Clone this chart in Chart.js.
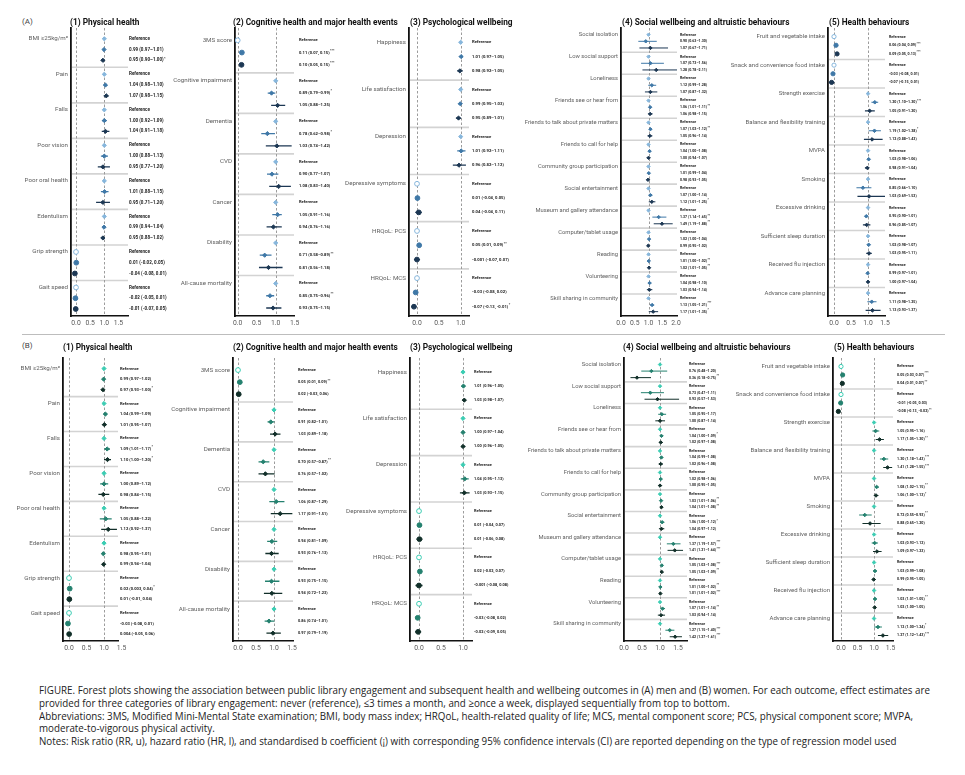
<!DOCTYPE html>
<html>
<head>
<meta charset="utf-8">
<script src="https://cdn.jsdelivr.net/npm/chart.js@4.4.1/dist/chart.umd.min.js"></script>
<style>
  body { margin: 0; background: #fff; width: 965px; height: 775px; position: relative; overflow: hidden; font-family: Roboto, sans-serif; }
  canvas { position: absolute; }
  .ttl { position: absolute; font: bold 8.3px Roboto, sans-serif; color: #111; white-space: nowrap; line-height: 10px; }
  .tag { position: absolute; font: 8px Roboto, sans-serif; color: #444; line-height: 10px; }
  .rule { position: absolute; left: 22px; top: 334px; width: 923px; height: 1px; background: #bdbdbd; }
  #caption { position: absolute; left: 39px; top: 684px; font: 11px 'Open Sans', sans-serif; color: #222; line-height: 12.8px; transform-origin: 0 0; }
  #caption div { white-space: nowrap; }
</style>
</head>
<body>
<div class="tag" style="left:22px;top:17px">(A)</div>
<div class="tag" style="left:22px;top:341px">(B)</div>
<div class="rule"></div>
<div id="caption">
  <div>FIGURE. Forest plots showing the association between public library engagement and subsequent health and wellbeing outcomes in (A) men and (B) women. For each outcome, effect estimates are</div>
  <div>provided for three categories of library engagement: never (reference), ≤3 times a month, and ≥once a week, displayed sequentially from top to bottom.</div>
  <div>Abbreviations: 3MS, Modified Mini-Mental State examination; BMI, body mass index; HRQoL, health-related quality of life; MCS, mental component score; PCS, physical component score; MVPA,</div>
  <div>moderate-to-vigorous physical activity.</div>
  <div>Notes: Risk ratio (RR, u), hazard ratio (HR, l), and standardised b coefficient (¡) with corresponding 95% confidence intervals (CI) are reported depending on the type of regression model used</div>
</div>
<script>
// Titulos de los paneles
const panelTitles = ['(1) Physical health', '(2) Cognitive health and major health events',
  '(3) Psychological wellbeing', '(4) Social wellbeing and altruistic behaviours', '(5) Health behaviours'];

// Resultados continuos (coeficiente b): referencia en 0
const continuous = ['3MS score', 'Grip strength', 'Gait speed', 'Depressive symptoms', 'HRQoL: PCS', 'HRQoL: MCS',
  'Fruit and vegetable intake', 'Snack and convenience food intake'];

// Etiquetas de cada panel
const physLabels = ['BMI ≥25kg/m²', 'Pain', 'Falls', 'Poor vision', 'Poor oral health', 'Edentulism', 'Grip strength', 'Gait speed'];
const cogLabels = ['3MS score', 'Cognitive impairment', 'Dementia', 'CVD', 'Cancer', 'Disability', 'All-cause mortality'];
const psyLabels = ['Happiness', 'Life satisfaction', 'Depression', 'Depressive symptoms', 'HRQoL: PCS', 'HRQoL: MCS'];
const socLabels = ['Social isolation', 'Low social support', 'Loneliness', 'Friends see or hear from',
  'Friends to talk about private matters', 'Friends to call for help', 'Community group participation',
  'Social entertainment', 'Museum and gallery attendance', 'Computer/tablet usage', 'Reading', 'Volunteering',
  'Skill sharing in community'];
const behLabels = ['Fruit and vegetable intake', 'Snack and convenience food intake', 'Strength exercise',
  'Balance and flexibility training', 'MVPA', 'Smoking', 'Excessive drinking', 'Sufficient sleep duration',
  'Received flu injection', 'Advance care planning'];

// [estimacion, IC inferior, IC superior, significancia]  (<=3 veces al mes / >=1 vez por semana)
const menPhysMid = [[0.99,0.97,1.01,''],[1.04,0.98,1.10,''],[1.00,0.92,1.09,''],[1.00,0.88,1.13,''],[1.01,0.88,1.15,''],[0.99,0.94,1.04,''],[0.01,-0.02,0.05,''],[-0.02,-0.05,0.01,'']];
const menPhysHigh = [[0.95,0.90,1.00,'*'],[1.07,0.98,1.15,''],[1.04,0.91,1.18,''],[0.95,0.77,1.20,''],[0.95,0.71,1.20,''],[0.95,0.88,1.02,''],[-0.04,-0.08,0.01,''],[-0.01,-0.07,0.05,'']];
const menCogMid = [[0.11,0.07,0.15,'***'],[0.89,0.79,0.99,'*'],[0.78,0.62,0.98,'*'],[0.90,0.77,1.07,''],[1.05,0.91,1.16,''],[0.71,0.58,0.89,'**'],[0.85,0.75,0.96,'**']];
const menCogHigh = [[0.10,0.05,0.15,'***'],[1.05,0.88,1.25,''],[1.03,0.74,1.42,''],[1.08,0.83,1.40,''],[0.94,0.76,1.16,''],[0.81,0.56,1.18,''],[0.93,0.75,1.15,'']];
const menPsyMid = [[1.01,0.97,1.05,''],[0.99,0.95,1.03,''],[1.01,0.92,1.11,''],[0.01,-0.04,0.05,''],[0.05,0.01,0.09,'**'],[-0.03,-0.08,0.02,'']];
const menPsyHigh = [[0.98,0.92,1.05,''],[0.95,0.89,1.01,''],[0.96,0.82,1.12,''],[0.04,-0.04,0.11,''],[-0.001,-0.07,0.07,''],[-0.07,-0.13,-0.01,'*']];
const menSocMid = [[0.90,0.63,1.30,''],[1.07,0.73,1.56,''],[1.12,0.99,1.28,''],[1.06,1.01,1.11,'**'],[1.07,1.02,1.12,'**'],[1.04,1.00,1.08,''],[1.01,0.99,1.04,''],[1.07,1.00,1.14,''],[1.37,1.14,1.65,'**'],[1.02,1.00,1.04,''],[1.01,1.00,1.02,'**'],[1.04,0.98,1.10,''],[1.13,1.05,1.21,'***']];
const menSocHigh = [[1.07,0.67,1.71,''],[1.28,0.78,2.11,''],[1.07,0.87,1.32,''],[1.06,0.98,1.15,''],[1.05,0.96,1.14,''],[1.00,0.94,1.07,''],[0.98,0.93,1.05,''],[1.12,1.01,1.25,'*'],[1.49,1.19,1.88,'**'],[0.99,0.95,1.02,''],[1.02,1.01,1.05,'**'],[1.03,0.94,1.14,''],[1.17,1.01,1.35,'*']];
const menBehMid = [[0.06,0.04,0.09,'***'],[-0.03,-0.08,0.01,''],[1.20,1.10,1.30,'***'],[1.19,1.02,1.38,'*'],[1.02,0.98,1.06,''],[0.85,0.66,1.10,''],[0.95,0.90,1.01,''],[1.02,0.98,1.07,''],[0.99,0.97,1.01,''],[1.11,0.98,1.25,'']];
const menBehHigh = [[0.09,0.05,0.13,'***'],[-0.07,-0.15,0.01,''],[1.05,0.91,1.20,''],[1.12,0.88,1.43,''],[0.98,0.91,1.04,''],[1.03,0.69,1.53,''],[0.96,0.85,1.07,''],[1.03,0.95,1.11,''],[1.00,0.97,1.04,''],[1.13,0.93,1.37,'']];

const womenPhysMid = [[0.99,0.97,1.02,''],[1.04,0.99,1.09,''],[1.09,1.01,1.17,'*'],[1.00,0.89,1.12,''],[1.05,0.88,1.22,''],[0.98,0.95,1.01,''],[0.02,0.003,0.04,'*'],[-0.03,-0.08,0.01,'']];
const womenPhysHigh = [[0.97,0.93,1.00,'*'],[1.01,0.95,1.07,''],[1.10,1.00,1.20,'*'],[0.98,0.84,1.15,''],[1.12,0.92,1.37,''],[0.99,0.94,1.04,''],[0.01,-0.01,0.04,''],[0.004,-0.05,0.06,'']];
const womenCogMid = [[0.05,0.01,0.09,'**'],[0.91,0.82,1.01,''],[0.70,0.57,0.87,'**'],[1.06,0.87,1.29,''],[0.94,0.81,1.09,''],[0.93,0.75,1.15,''],[0.86,0.74,1.01,'']];
const womenCogHigh = [[0.02,-0.03,0.06,''],[1.03,0.89,1.18,''],[0.76,0.57,1.02,''],[1.17,0.91,1.51,''],[0.93,0.76,1.13,''],[0.94,0.72,1.23,''],[0.97,0.79,1.19,'']];
const womenPsyMid = [[1.01,0.96,1.05,''],[1.00,0.97,1.04,''],[1.04,0.95,1.13,''],[0.01,-0.04,0.07,''],[0.02,-0.02,0.07,''],[-0.03,-0.08,0.02,'']];
const womenPsyHigh = [[1.03,0.98,1.07,''],[1.00,0.96,1.05,''],[1.03,0.93,1.15,''],[0.01,-0.06,0.08,''],[-0.001,-0.08,0.08,''],[-0.02,-0.09,0.05,'']];
const womenSocMid = [[0.76,0.48,1.20,''],[0.73,0.47,1.11,''],[1.05,0.95,1.17,''],[1.04,1.00,1.09,'*'],[1.04,0.99,1.08,''],[1.02,0.98,1.06,''],[1.03,1.01,1.06,'**'],[1.06,1.00,1.12,'*'],[1.37,1.19,1.57,'***'],[1.05,1.02,1.08,'***'],[1.01,1.00,1.02,'**'],[1.07,1.01,1.14,'**'],[1.27,1.15,1.40,'***']];
const womenSocHigh = [[0.36,0.18,0.75,'**'],[0.93,0.57,1.53,''],[1.00,0.87,1.14,''],[1.02,0.97,1.08,''],[1.02,0.96,1.08,''],[1.00,0.95,1.05,''],[1.04,1.01,1.08,'**'],[1.04,0.97,1.12,''],[1.41,1.21,1.64,'***'],[1.05,1.02,1.09,'**'],[1.01,1.01,1.02,'***'],[1.03,0.94,1.14,''],[1.42,1.27,1.61,'***']];
const womenBehMid = [[0.05,0.03,0.07,'***'],[-0.01,-0.05,0.03,''],[1.05,0.95,1.16,''],[1.30,1.18,1.43,'***'],[1.08,1.02,1.15,'**'],[0.72,0.55,0.93,'**'],[1.02,0.93,1.12,''],[1.03,0.99,1.08,''],[1.03,1.01,1.05,'**'],[1.12,1.00,1.24,'*']];
const womenBehHigh = [[0.04,0.01,0.07,'**'],[-0.08,-0.13,-0.02,'**'],[1.17,1.05,1.30,'**'],[1.41,1.28,1.55,'***'],[1.06,1.00,1.13,'*'],[0.88,0.65,1.20,''],[1.09,0.97,1.23,''],[0.99,0.95,1.05,''],[1.02,1.00,1.05,''],[1.27,1.12,1.43,'***']];

// Colores: referencia, <=3 veces/mes, >=1 vez/semana
const menColors = ['#86b6dc', '#3f78a7', '#1c3753'];
const womenColors = ['#3bcdb3', '#24816f', '#112f29'];

const G = 3.3; // separacion entre grupos (en filas)

// Geometria de las filas y paneles (pixeles de pagina)
const rowA = { top: 28, bottom: 316, titleY: 17, colors: menColors };
const rowB = { top: 358, bottom: 641, titleY: 342, colors: womenColors };

const panels = [
  { row: rowA, labels: physLabels, mid: menPhysMid, high: menPhysHigh, cl: 0, cr: 185, ax: 71, x0: 76, x1: 104.3, sep: 128, an: 129, ticks: [0, 0.5, 1, 1.5], fs: 4.55, ls: 6.2, mr: 2.1, lw: 1.3 },
  { row: rowA, labels: cogLabels, mid: menCogMid, high: menCogHigh, cl: 165, cr: 350, ax: 235, x0: 237.7, x1: 275.7, sep: 294, an: 299, ticks: [0, 0.5, 1, 1.5], fs: 4.1, ls: 6.2, mr: 2.1, lw: 1.3 },
  { row: rowA, labels: psyLabels, mid: menPsyMid, high: menPsyHigh, cl: 335, cr: 520, ax: 409, x0: 417, x1: 460.7, sep: 469, an: 472, ticks: [0, 0.5, 1], fs: 4.2, ls: 6.2, mr: 2.1, lw: 1.3 },
  { row: rowA, labels: socLabels, mid: menSocMid, high: menSocHigh, cl: 515, cr: 725, ax: 621, x0: 621, x1: 648.5, sep: 677, an: 680, ticks: [0, 0.5, 1, 1.5, 2], fs: 3.55, ls: 5.8, mr: 1.7, lw: 1 },
  { row: rowA, labels: behLabels, mid: menBehMid, high: menBehHigh, cl: 720, cr: 965, ax: 828, x0: 834, x1: 868, sep: 885, an: 889, ticks: [0, 0.5, 1, 1.5], fs: 3.65, ls: 6.0, mr: 1.8, lw: 1.1 },
  { row: rowB, labels: physLabels, mid: womenPhysMid, high: womenPhysHigh, cl: 0, cr: 175, ax: 63, x0: 69, x1: 104, sep: 118, an: 120, ticks: [0, 0.5, 1, 1.5], fs: 4.1, ls: 6.2, mr: 2.1, lw: 1.3 },
  { row: rowB, labels: cogLabels, mid: womenCogMid, high: womenCogHigh, cl: 165, cr: 350, ax: 233, x0: 238, x1: 274, sep: 293, an: 298, ticks: [0, 0.5, 1, 1.5], fs: 3.9, ls: 6.2, mr: 2.1, lw: 1.3 },
  { row: rowB, labels: psyLabels, mid: womenPsyMid, high: womenPsyHigh, cl: 335, cr: 520, ax: 410, x0: 419, x1: 463, sep: 472, an: 474, ticks: [0, 0.5, 1], fs: 3.9, ls: 6.2, mr: 2.1, lw: 1.3 },
  { row: rowB, labels: socLabels, mid: womenSocMid, high: womenSocHigh, cl: 515, cr: 735, ax: 624, x0: 624, x1: 660, sep: 687, an: 689, ticks: [0, 0.5, 1, 1.5], fs: 3.55, ls: 5.8, mr: 1.7, lw: 1 },
  { row: rowB, labels: behLabels, mid: womenBehMid, high: womenBehHigh, cl: 725, cr: 965, ax: 833, x0: 841, x1: 874, sep: 893, an: 897, ticks: [0, 0.5, 1, 1.5], fs: 3.65, ls: 6.0, mr: 1.8, lw: 1.1 }
];

Chart.defaults.font.family = 'Roboto, sans-serif';

function fmt(v) {
  return (v !== 0 && Math.abs(v) < 0.01) ? v.toFixed(3) : v.toFixed(2);
}

function ciText(name, e) {
  return continuous.includes(name)
    ? fmt(e[0]) + ' (' + fmt(e[1]) + ', ' + fmt(e[2]) + ')'
    : fmt(e[0]) + ' (' + fmt(e[1]) + '–' + fmt(e[2]) + ')';
}

// Separadores, lineas discontinuas y textos de los intervalos
const forestPlugin = {
  id: 'forest',
  beforeDatasetsDraw(chart, args, opts) {
    const { ctx, chartArea, scales: { x, y } } = chart;
    ctx.save();
    ctx.strokeStyle = '#d3d3d3';
    ctx.lineWidth = 1.6;
    for (let g = 1; g < opts.labels.length; g++) {
      const py = y.getPixelForValue(g * G - 0.65);
      ctx.beginPath();
      ctx.moveTo(chartArea.left + 1, py);
      ctx.lineTo(chartArea.right, py);
      ctx.stroke();
    }
    ctx.strokeStyle = '#9c9c9c';
    ctx.lineWidth = 1;
    ctx.setLineDash([2.5, 2]);
    opts.refLines.forEach(v => {
      const px = Math.round(x.getPixelForValue(v)) + 0.5;
      ctx.beginPath();
      ctx.moveTo(px, chartArea.top);
      ctx.lineTo(px, chartArea.bottom);
      ctx.stroke();
    });
    ctx.restore();
  },
  afterDatasetsDraw(chart, args, opts) {
    const { ctx, chartArea, scales: { y } } = chart;
    ctx.save();
    ctx.fillStyle = '#222';
    ctx.textBaseline = 'middle';
    const tx = chartArea.right + opts.gap;
    opts.labels.forEach((name, g) => {
      const rows = [['Reference', ''], [ciText(name, opts.mid[g]), opts.mid[g][3]], [ciText(name, opts.high[g]), opts.high[g][3]]];
      rows.forEach(([txt, sig], r) => {
        const py = y.getPixelForValue(g * G + r);
        ctx.font = 'bold ' + opts.fs + 'px Roboto';
        ctx.fillText(txt, tx, py);
        if (sig) {
          const w = ctx.measureText(txt).width;
          ctx.font = 'bold ' + (opts.fs * 0.8) + 'px Roboto';
          ctx.fillText(sig, tx + w + 0.4, py - opts.fs * 0.35);
        }
      });
    });
    ctx.restore();
  }
};

function buildDatasets(p) {
  const cols = p.row.colors;
  const pts = [[], [], []];
  const ci = [[], []];
  p.labels.forEach((name, g) => {
    const cont = continuous.includes(name);
    pts[0].push({ x: cont ? 0 : 1, y: g * G, cont: cont });
    [p.mid[g], p.high[g]].forEach((e, k) => {
      const yy = g * G + k + 1;
      pts[k + 1].push({ x: e[0], y: yy, cont: cont });
      ci[k].push({ x: e[1], y: yy }, { x: e[2], y: yy }, { x: NaN, y: NaN });
    });
  });
  const sets = [];
  pts.forEach((d, k) => {
    sets.push({
      data: d,
      order: 1,
      pointStyle: c => (c.raw && c.raw.cont) ? 'circle' : 'rectRot',
      pointRadius: c => (c.raw && c.raw.cont) ? p.mr + 0.3 : p.mr,
      pointBorderWidth: 1,
      pointBorderColor: cols[k],
      pointBackgroundColor: c => (k === 0 && c.raw && c.raw.cont) ? '#fff' : cols[k]
    });
  });
  ci.forEach((d, k) => {
    sets.push({
      data: d,
      order: 2,
      showLine: true,
      spanGaps: false,
      borderColor: cols[k + 1],
      borderWidth: p.lw,
      pointRadius: 0
    });
  });
  return sets;
}

const padTop = 8;
const axisH = 16;

panels.forEach(p => {
  const canvas = document.createElement('canvas');
  const w = p.cr - p.cl;
  const h = (p.row.bottom + axisH) - (p.row.top - padTop);
  canvas.width = w;
  canvas.height = h;
  canvas.style.left = p.cl + 'px';
  canvas.style.top = (p.row.top - padTop) + 'px';
  canvas.style.width = w + 'px';
  canvas.style.height = h + 'px';
  document.body.appendChild(canvas);

  const unit = p.x1 - p.x0;
  const xMin = (p.ax - p.x0) / unit;
  const xMax = (p.sep - p.x0) / unit;
  const n = p.labels.length;
  const hasCont = p.labels.some(l => continuous.includes(l));

  new Chart(canvas.getContext('2d'), {
    type: 'scatter',
    data: { datasets: buildDatasets(p) },
    plugins: [forestPlugin],
    options: {
      responsive: false,
      animation: false,
      events: [],
      layout: { autoPadding: false, padding: { top: padTop, right: p.cr - p.sep, left: 0, bottom: 0 } },
      plugins: {
        legend: { display: false },
        tooltip: { enabled: false },
        forest: { labels: p.labels, mid: p.mid, high: p.high, fs: p.fs, gap: p.an - p.sep, refLines: hasCont ? [0, 1] : [1] }
      },
      scales: {
        x: {
          type: 'linear', min: xMin, max: xMax,
          grid: { display: false, drawTicks: false },
          border: { color: '#111', width: 1.5 },
          afterBuildTicks: s => { s.ticks = p.ticks.map(v => ({ value: v })); },
          afterFit: s => { s.height = axisH; },
          ticks: { callback: v => Number(v).toFixed(1), font: { size: 6.8 }, color: '#5a5a5a', padding: 3, maxRotation: 0, autoSkip: false }
        },
        y: {
          type: 'linear', reverse: true, min: -1, max: n * G - 0.65,
          grid: { display: false, drawTicks: false },
          border: { color: '#111', width: 1.8 },
          afterBuildTicks: s => { s.ticks = p.labels.map((l, g) => ({ value: g * G })); },
          afterFit: s => { s.width = p.ax - p.cl; },
          ticks: { callback: (v, i) => p.labels[i], font: { size: p.ls }, color: '#606060', padding: 3, autoSkip: false }
        }
      }
    }
  });
});

// Titulos de panel como texto HTML
const titleX = [[70, 233, 410, 622, 829], [63, 233, 410, 623, 834]];
[rowA, rowB].forEach((row, ri) => {
  panelTitles.forEach((t, i) => {
    const d = document.createElement('div');
    d.className = 'ttl';
    d.textContent = t;
    d.style.left = titleX[ri][i] + 'px';
    d.style.top = row.titleY + 'px';
    document.body.appendChild(d);
  });
});

// Ajustar el pie de figura al ancho del original
const cap = document.getElementById('caption');
const first = cap.firstElementChild;
const natural = first.getBoundingClientRect().width;
cap.style.transform = 'scaleX(' + (891 / natural) + ')';
</script>
</body>
</html>
